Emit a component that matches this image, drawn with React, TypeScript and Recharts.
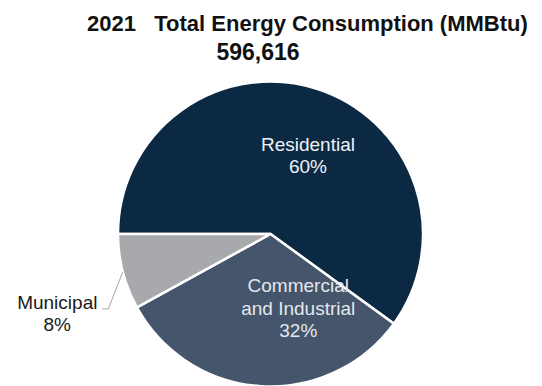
import { Cell, Pie, PieChart } from "recharts"

const SECTORS = ["Residential", "Commercial and Industrial", "Municipal"]
const SHARES = [60, 32, 8]
const TITLE = "2021   Total Energy Consumption (MMBtu)"
const TOTAL = "596,616"

const W = 542
const H = 386
const FONT = "'Liberation Sans', Arial, Helvetica, sans-serif"

const COLORS: Record<string, string> = {
  Residential: "#0c2943",
  "Commercial and Industrial": "#45556b",
  Municipal: "#a7a9ad",
}

// where each label sits: polar angle (deg) + fraction of radius, text lines, colour
const LABELS: Record<
  string,
  { angle: number; dist: number; lines: string[]; fill: string; outside?: boolean }
> = {
  Residential: { angle: 64.5, dist: 0.57, lines: ["Residential", "60%"], fill: "#eef2f6" },
  "Commercial and Industrial": {
    angle: -69.5,
    dist: 0.52,
    lines: ["Commercial", "and Industrial", "32%"],
    fill: "#e3e8ee",
  },
  Municipal: { angle: 0, dist: 1, lines: ["Municipal", "8%"], fill: "#1a1a1a", outside: true },
}

const data = SECTORS.map((name, i) => ({ name, value: SHARES[i] }))

const RAD = Math.PI / 180
const LINE_H = 22.5

function renderLabel(props: any) {
  const { cx, cy, outerRadius, midAngle, payload, index } = props
  const name = payload?.name ?? SECTORS[index]
  const cfg = LABELS[name]
  if (!cfg) return null

  if (cfg.outside) {
    // leader line from the rim at the slice middle, down-left, then short tick
    const sx = cx + outerRadius * Math.cos(-midAngle * RAD)
    const sy = cy + outerRadius * Math.sin(-midAngle * RAD)
    const ex = sx - 14.5
    const ey = sy + 37
    const tx = ex - 6
    return (
      <g>
        <polyline
          points={`${sx},${sy} ${ex},${ey} ${tx},${ey}`}
          fill="none"
          stroke="#a6a6a6"
          strokeWidth={1}
        />
        <text
          x={tx - 45}
          y={ey}
          textAnchor="middle"
          fill={cfg.fill}
          fontFamily={FONT}
          fontSize={19}
        >
          {cfg.lines.map((l, i) => (
            <tspan key={i} x={tx - 45} dy={i === 0 ? 0 : LINE_H}>
              {l}
            </tspan>
          ))}
        </text>
      </g>
    )
  }

  const x = cx + outerRadius * cfg.dist * Math.cos(-cfg.angle * RAD)
  const y = cy + outerRadius * cfg.dist * Math.sin(-cfg.angle * RAD)
  const top = y - ((cfg.lines.length - 1) * LINE_H) / 2 + 6.5
  return (
    <text x={x} y={top} textAnchor="middle" fill={cfg.fill} fontFamily={FONT} fontSize={19}>
      {cfg.lines.map((l, i) => (
        <tspan key={i} x={x} dy={i === 0 ? 0 : LINE_H}>
          {l}
        </tspan>
      ))}
    </text>
  )
}

export default function App() {
  return (
    <div
      style={{
        position: "absolute",
        left: 0,
        top: 0,
        width: W,
        height: H,
        background: "#ffffff",
        overflow: "hidden",
      }}
    >
      <PieChart width={W} height={H} margin={{ top: 0, right: 0, bottom: 0, left: 0 }}>
        <Pie
          data={data}
          dataKey="value"
          nameKey="name"
          cx={270.5}
          cy={234}
          outerRadius={152.5}
          startAngle={180}
          endAngle={-180}
          stroke="#ffffff"
          strokeWidth={2.5}
          label={renderLabel}
          labelLine={false}
          isAnimationActive={false}
        >
          {data.map((d) => (
            <Cell key={d.name} fill={COLORS[d.name]} />
          ))}
        </Pie>
      </PieChart>
      <svg
        width={W}
        height={70}
        style={{ position: "absolute", left: 0, top: 0, pointerEvents: "none" }}
      >
        <text
          x={87}
          y={31}
          fontFamily={FONT}
          fontWeight="bold"
          fontSize={22}
          fill="#111111"
          style={{ whiteSpace: "pre" }}
        >
          {TITLE}
        </text>
        <text
          x={258}
          y={60}
          textAnchor="middle"
          fontFamily={FONT}
          fontWeight="bold"
          fontSize={23}
          fill="#111111"
        >
          {TOTAL}
        </text>
      </svg>
    </div>
  )
}
